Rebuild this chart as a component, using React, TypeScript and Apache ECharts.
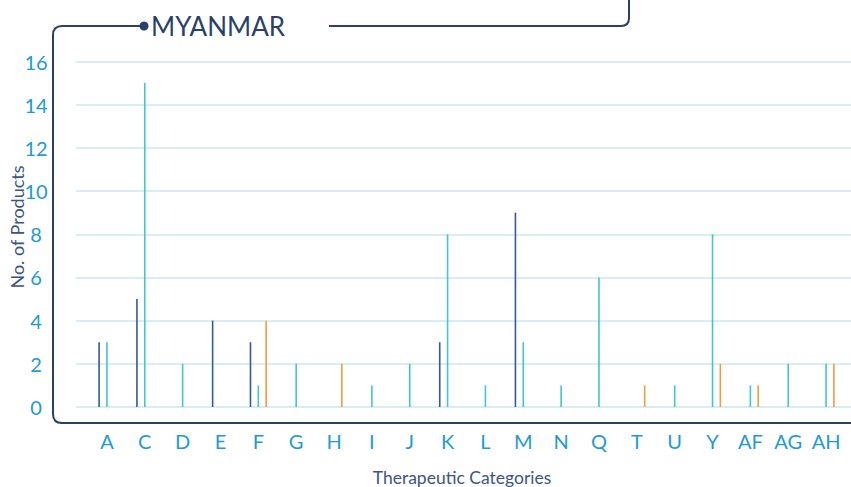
import React, { useEffect, useRef } from "react";
import * as echarts from "echarts";

const categories = ["A", "C", "D", "E", "F", "G", "H", "I", "J", "K", "L", "M", "N", "Q", "T", "U", "Y", "AF", "AG", "AH"];
const seriesBlue = [3, 5, null, 4, 3, null, null, null, null, 3, null, 9, null, null, null, null, null, null, null, null];
const seriesTeal = [3, 15, 2, null, 1, 2, null, 1, 2, 8, 1, 3, 1, 6, null, 1, 8, 1, 2, 2];
const seriesOrange = [null, null, null, null, 4, null, 2, null, null, null, null, null, null, null, 1, null, 2, 1, null, 2];
const yTicks = [0, 2, 4, 6, 8, 10, 12, 14, 16];
const title = "MYANMAR";
const xTitle = "Therapeutic Categories";
const yTitle = "No. of Products";

const NAVY = "#2b3f6c";
const LABEL = "#1b9bd8";
const FONT = "Lato, 'Open Sans', sans-serif";

echarts.graphic.registerShape(
  "frameShape",
  echarts.graphic.extendPath(
    "M140 26 L62 26 Q53 26 53 35 L53 414 Q53 423 62 423 L851 423 M329 26 L621 26 Q629 26 629 18 L629 0",
    {}
  )
);

export default function App() {
  const ref = useRef<HTMLDivElement>(null);
  useEffect(() => {
    document.body.style.margin = "0";
    if (!ref.current) return;
    const chart = echarts.init(ref.current, null, { renderer: "svg" });
    const yMax = yTicks[yTicks.length - 1];
    const barCommon = {
      type: "bar" as const,
      xAxisIndex: 1,
      yAxisIndex: 1,
      barWidth: 1.6,
      barGap: "390%",
      silent: true,
    };
    chart.setOption({
      animation: false,
      grid: [
        { left: 76, right: 0, top: 61.5, bottom: 80 },
        { left: 88, right: 6, top: 61.5, bottom: 80 },
      ],
      xAxis: [
        { gridIndex: 0, type: "value", show: false },
        {
          gridIndex: 1,
          type: "category",
          data: categories,
          axisLine: { show: false },
          axisTick: { show: false },
          axisLabel: {
            interval: 0,
            hideOverlap: false,
            color: LABEL,
            fontFamily: FONT,
            fontSize: 20,
            margin: 24,
          },
        },
      ],
      yAxis: [
        {
          gridIndex: 0,
          type: "value",
          min: 0,
          max: yMax,
          interval: 2,
          axisLine: { show: false },
          axisTick: { show: false },
          splitLine: { lineStyle: { color: "#cbe9f5", width: 1.5 } },
          axisLabel: {
            color: LABEL,
            fontFamily: FONT,
            fontSize: 20,
            align: "center",
            margin: 40,
          },
        },
        {
          gridIndex: 1,
          type: "value",
          min: 0,
          max: yMax,
          interval: 2,
          show: false,
        },
      ],
      series: [
        { ...barCommon, name: "blue", data: seriesBlue, itemStyle: { color: "#3557a6" } },
        { ...barCommon, name: "teal", data: seriesTeal, itemStyle: { color: "#40c7cb" } },
        { ...barCommon, name: "orange", data: seriesOrange, itemStyle: { color: "#f39c3a" } },
      ],
      graphic: [
        {
          type: "frameShape",
          x: 0,
          y: 0,
          silent: true,
          style: { fill: "none", stroke: NAVY, lineWidth: 2 },
        },
        {
          type: "circle",
          shape: { cx: 144, cy: 26, r: 4.5 },
          style: { fill: NAVY },
          silent: true,
        },
        {
          type: "text",
          x: 151,
          y: 26,
          style: {
            text: title,
            fill: NAVY,
            font: `26px ${FONT}`,
            verticalAlign: "middle",
            align: "left",
          },
          silent: true,
        },
        {
          type: "text",
          x: 462,
          y: 477,
          style: {
            text: xTitle,
            fill: "#3d5585",
            font: `17.5px ${FONT}`,
            align: "center",
            verticalAlign: "middle",
          },
          silent: true,
        },
        {
          type: "text",
          x: 17,
          y: 227,
          rotation: Math.PI / 2,
          style: {
            text: yTitle,
            fill: "#3d5585",
            font: `18px ${FONT}`,
            align: "center",
            verticalAlign: "middle",
          },
          silent: true,
        },
      ],
    });
    return () => chart.dispose();
  }, []);
  return <div ref={ref} style={{ width: 851, height: 487 }} />;
}
